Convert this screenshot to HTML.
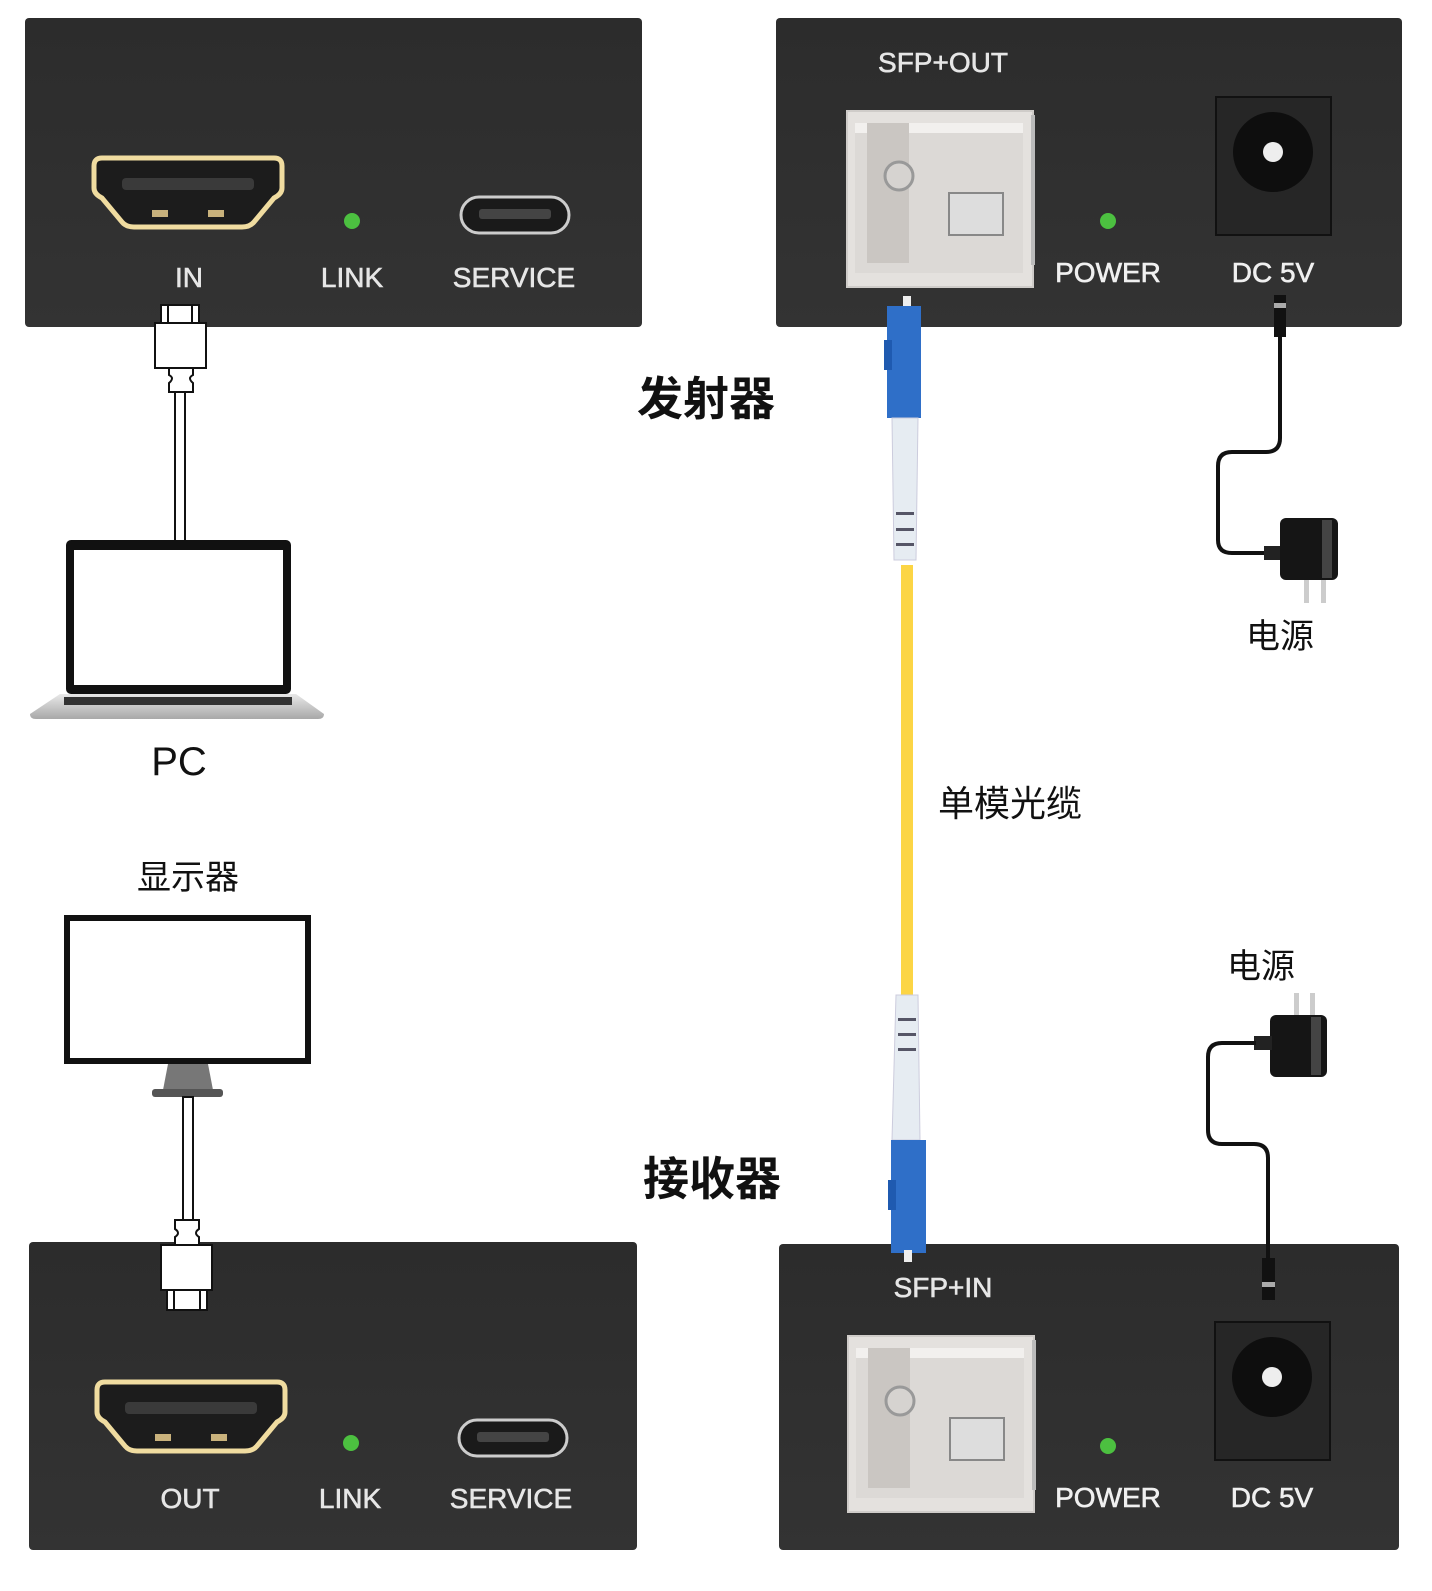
<!DOCTYPE html>
<html><head><meta charset="utf-8"><style>
html,body{margin:0;padding:0;background:#fff;width:1432px;height:1591px;overflow:hidden}
svg{display:block}
text{font-family:"Liberation Sans","Noto Sans CJK SC",sans-serif}
.lbl{stroke:currentColor;stroke-width:0.6}
</style></head><body>
<svg width="1432" height="1591" viewBox="0 0 1432 1591" xmlns="http://www.w3.org/2000/svg">
<defs>
<linearGradient id="pan" x1="0" y1="0" x2="0" y2="1"><stop offset="0" stop-color="#2c2c2c"/><stop offset="1" stop-color="#333"/></linearGradient>
<linearGradient id="lap" x1="0" y1="0" x2="0" y2="1"><stop offset="0" stop-color="#e8e8e8"/><stop offset="1" stop-color="#a8a8a8"/></linearGradient>
<g id="hdmi">
<path d="M0,8 Q0,0 8,0 H180 Q188,0 188,8 V30 Q188,36 180,40 L160,64 Q156,69 148,69 H40 Q32,69 28,64 L8,40 Q0,36 0,30 Z" fill="#1c1c1c" stroke="#f0dca0" stroke-width="5"/>
<rect x="28" y="20" width="132" height="12" rx="4" fill="#3a3a3a"/>
<rect x="58" y="52" width="16" height="7" fill="#c9b27c"/><rect x="114" y="52" width="16" height="7" fill="#c9b27c"/>
</g>
<g id="usbc"><rect x="0" y="0" width="108" height="36" rx="18" fill="#1a1a1a" stroke="#ccc" stroke-width="3"/><rect x="18" y="12" width="72" height="10" rx="3" fill="#444"/></g>
<g id="sfp">
<rect x="0" y="0" width="186" height="176" fill="#e4e1de" stroke="#cfccc9" stroke-width="2"/>
<rect x="184" y="4" width="4" height="150" fill="#bbb"/>
<rect x="8" y="12" width="168" height="150" fill="#dcd9d6"/>
<rect x="8" y="12" width="168" height="10" fill="#f2f0ee"/>
<rect x="20" y="12" width="42" height="140" fill="#cac6c2"/>
<circle cx="52" cy="65" r="14" fill="#d6d3d0" stroke="#999" stroke-width="3"/>
<rect x="102" y="82" width="54" height="42" fill="#ddd" stroke="#888" stroke-width="2"/>
</g>
<g id="dc"><rect x="0" y="0" width="115" height="138" fill="#262626" stroke="#111" stroke-width="2"/><circle cx="57" cy="55" r="40" fill="#0e0e0e"/><circle cx="57" cy="55" r="10" fill="#eee"/></g>
</defs>

<!-- Bottom panels first (connectors overlap them) -->
<rect x="29" y="1242" width="608" height="308" rx="4" fill="url(#pan)"/>
<use href="#hdmi" x="97" y="1382"/>
<circle cx="351" cy="1443" r="8" fill="#4cc040"/>
<use href="#usbc" x="459" y="1420"/>
<g fill="#e6e6e6" color="#e6e6e6" class="lbl" font-size="28" text-anchor="middle"><text x="190" y="1508">OUT</text><text x="350" y="1508">LINK</text><text x="511" y="1508">SERVICE</text></g>

<rect x="779" y="1244" width="620" height="306" rx="4" fill="url(#pan)"/>
<text x="943" y="1297" font-size="28" fill="#e6e6e6" color="#e6e6e6" class="lbl" text-anchor="middle">SFP+IN</text>
<use href="#sfp" x="848" y="1336"/>
<circle cx="1108" cy="1446" r="8" fill="#4cc040"/>
<use href="#dc" x="1215" y="1322"/>
<g fill="#f0f0f0" color="#f0f0f0" class="lbl" font-size="28" text-anchor="middle"><text x="1108" y="1507">POWER</text><text x="1272" y="1507">DC 5V</text></g>

<!-- Top-left panel -->
<rect x="25" y="18" width="617" height="309" rx="4" fill="url(#pan)"/>
<use href="#hdmi" x="94" y="158"/>
<circle cx="352" cy="221" r="8" fill="#4cc040"/>
<use href="#usbc" x="461" y="197"/>
<g fill="#e6e6e6" color="#e6e6e6" class="lbl" font-size="28" text-anchor="middle"><text x="189" y="287">IN</text><text x="352" y="287">LINK</text><text x="514" y="287">SERVICE</text></g>

<!-- top hdmi cable -->
<g fill="#fff" stroke="#111" stroke-width="2">
<rect x="161" y="305" width="38" height="18"/><line x1="168" y1="305" x2="168" y2="323"/><line x1="192" y1="305" x2="192" y2="323"/>
<rect x="155" y="323" width="51" height="45"/>
<path d="M169,368 H193 V375 Q187,378 193,383 V392 H169 V383 Q175,378 169,375 Z"/>
<rect x="175" y="392" width="10" height="150"/>
</g>

<!-- laptop -->
<rect x="66" y="540" width="225" height="154" rx="5" fill="#111"/>
<rect x="74" y="550" width="209" height="135" fill="#fff"/>
<path d="M30,714 L60,694 H296 L324,714 Q324,719 318,719 H36 Q30,719 30,714Z" fill="url(#lap)"/>
<rect x="64" y="697" width="228" height="8" fill="#333"/>
<text x="179" y="775" font-size="40" fill="#111" text-anchor="middle">PC</text>

<!-- monitor -->
<text x="188" y="889" font-size="34" fill="#111" text-anchor="middle">显示器</text>
<rect x="64" y="915" width="247" height="149" fill="#111"/>
<rect x="70" y="921" width="235" height="137" fill="#fff"/>
<path d="M168,1064 H208 L213,1090 H163 Z" fill="#777"/>
<rect x="152" y="1089" width="71" height="8" rx="3" fill="#555"/>
<g fill="#fff" stroke="#111" stroke-width="2">
<rect x="183" y="1097" width="10" height="125"/>
<path d="M175,1220 H199 V1229 Q193,1233 199,1237 V1245 H175 V1237 Q181,1233 175,1229 Z"/>
<rect x="161" y="1245" width="51" height="45"/>
<rect x="167" y="1290" width="40" height="20"/><line x1="174" y1="1290" x2="174" y2="1310"/><line x1="200" y1="1290" x2="200" y2="1310"/>
</g>

<!-- labels -->
<text x="706" y="415" font-size="46" font-weight="bold" fill="#111" text-anchor="middle">发射器</text>
<text x="712" y="1195" font-size="46" font-weight="bold" fill="#111" text-anchor="middle">接收器</text>
<text x="1010" y="816" font-size="36" fill="#111" text-anchor="middle">单模光缆</text>

<!-- top-right panel -->
<rect x="776" y="18" width="626" height="309" rx="4" fill="url(#pan)"/>
<text x="943" y="72" font-size="28" fill="#e6e6e6" color="#e6e6e6" class="lbl" text-anchor="middle">SFP+OUT</text>
<use href="#sfp" x="847" y="111"/>
<circle cx="1108" cy="221" r="8" fill="#4cc040"/>
<use href="#dc" x="1216" y="97"/>
<g fill="#f0f0f0" color="#f0f0f0" class="lbl" font-size="28" text-anchor="middle"><text x="1108" y="282">POWER</text><text x="1273" y="282">DC 5V</text></g>

<!-- fiber -->
<rect x="901" y="565" width="12" height="432" fill="#fcd545"/>
<rect x="903" y="296" width="8" height="12" fill="#eee"/>
<rect x="887" y="306" width="34" height="112" fill="#2f6fc8"/>
<rect x="884" y="340" width="8" height="30" fill="#1f5ab0"/>
<path d="M892,418 H918 L916,560 H894 Z" fill="#e6ecf2" stroke="#ccd" stroke-width="1"/>
<g fill="#556"><rect x="896" y="512" width="18" height="3"/><rect x="896" y="528" width="18" height="3"/><rect x="896" y="543" width="18" height="3"/></g>
<path d="M896,995 H918 L920,1140 H892 Z" fill="#e6ecf2" stroke="#ccd" stroke-width="1"/>
<g fill="#556"><rect x="898" y="1018" width="18" height="3"/><rect x="898" y="1033" width="18" height="3"/><rect x="898" y="1048" width="18" height="3"/></g>
<rect x="891" y="1140" width="35" height="113" fill="#2f6fc8"/>
<rect x="888" y="1180" width="8" height="30" fill="#1f5ab0"/>
<rect x="904" y="1250" width="8" height="12" fill="#eee"/>

<!-- power top -->
<rect x="1274" y="295" width="12" height="42" fill="#111"/>
<rect x="1274" y="303" width="12" height="5" fill="#aaa"/>
<path d="M1280,337 V438 Q1280,452 1266,452 H1232 Q1218,452 1218,466 V540 Q1218,553 1232,553 H1270" fill="none" stroke="#111" stroke-width="4"/>
<rect x="1264" y="546" width="18" height="14" fill="#222"/>
<rect x="1280" y="518" width="58" height="62" rx="6" fill="#151515"/>
<rect x="1322" y="520" width="10" height="58" fill="#444"/>
<rect x="1304" y="580" width="5" height="23" fill="#ccc"/><rect x="1321" y="580" width="5" height="23" fill="#ccc"/>
<text x="1280" y="648" font-size="34" fill="#111" text-anchor="middle">电源</text>

<!-- power bottom -->
<text x="1261" y="978" font-size="34" fill="#111" text-anchor="middle">电源</text>
<rect x="1294" y="993" width="5" height="22" fill="#ccc"/><rect x="1310" y="993" width="5" height="22" fill="#ccc"/>
<rect x="1270" y="1015" width="57" height="62" rx="6" fill="#151515"/>
<rect x="1311" y="1017" width="10" height="58" fill="#444"/>
<rect x="1254" y="1036" width="18" height="14" fill="#222"/>
<path d="M1256,1043 H1222 Q1208,1043 1208,1057 V1130 Q1208,1144 1222,1144 H1254 Q1268,1144 1268,1158 V1262" fill="none" stroke="#111" stroke-width="4"/>
<rect x="1262" y="1258" width="13" height="42" fill="#111"/>
<rect x="1262" y="1282" width="13" height="5" fill="#aaa"/>
</svg>
</body></html>
